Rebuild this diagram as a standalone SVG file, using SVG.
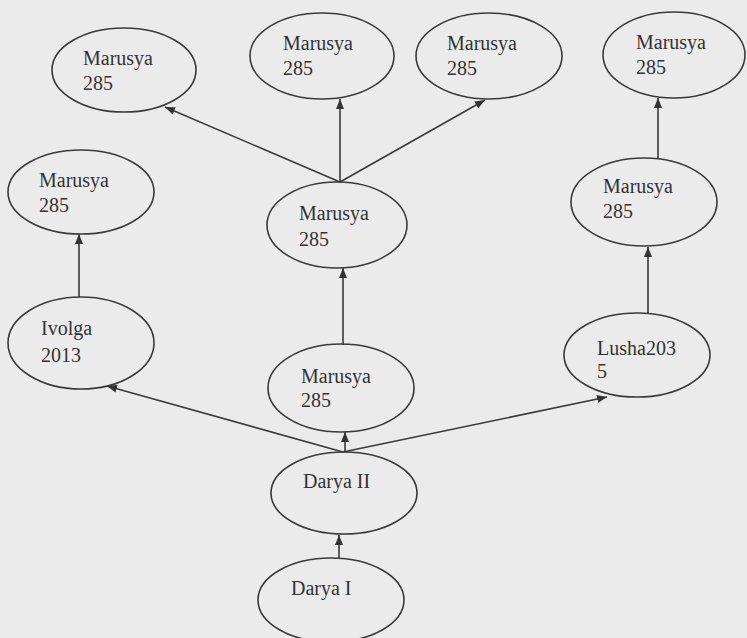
<svg xmlns="http://www.w3.org/2000/svg" width="747" height="638" viewBox="0 0 747 638">
<style>
.n ellipse{fill:none;stroke:#3a3a3a;stroke-width:1.6}
.n text{font-family:"Liberation Serif","Times New Roman",serif;font-size:20px;fill:#333}
#edges line{stroke:#3a3a3a;stroke-width:1.6;marker-end:url(#ah)}
</style>
<defs>
<marker id="ah" viewBox="0 0 10 8" refX="10" refY="4" markerWidth="10" markerHeight="8" markerUnits="userSpaceOnUse" orient="auto">
<path d="M0,0 L10,4 L0,8 Z" fill="#333"/>
</marker>
</defs>
<rect width="747" height="638" fill="#ebebeb"/>
<g id="edges">
<line x1="339" y1="558" x2="339" y2="535"/>
<line x1="345" y1="452" x2="345" y2="432"/>
<line x1="343" y1="452" x2="107" y2="386"/>
<line x1="343" y1="452" x2="607" y2="397"/>
<line x1="343" y1="345" x2="343" y2="268"/>
<line x1="79" y1="297" x2="79" y2="234"/>
<line x1="340" y1="182" x2="165" y2="107"/>
<line x1="340" y1="182" x2="340" y2="99"/>
<line x1="340" y1="182" x2="485" y2="100"/>
<line x1="648" y1="313" x2="648" y2="247"/>
<line x1="658" y1="158" x2="658" y2="98"/>
</g>
<g id="m1" class="n"><ellipse cx="124" cy="70" rx="72" ry="42"/><text x="83" y="65">Marusya</text><text x="83" y="90">285</text></g>
<g id="m2" class="n"><ellipse cx="322" cy="56" rx="72" ry="43"/><text x="283" y="50">Marusya</text><text x="283" y="75">285</text></g>
<g id="m3" class="n"><ellipse cx="489" cy="56" rx="73" ry="43"/><text x="447" y="50">Marusya</text><text x="447" y="75">285</text></g>
<g id="m4" class="n"><ellipse cx="674" cy="55" rx="71" ry="43"/><text x="636" y="49">Marusya</text><text x="636" y="74">285</text></g>
<g id="m5" class="n"><ellipse cx="81" cy="192" rx="73" ry="42"/><text x="39" y="187">Marusya</text><text x="39" y="212">285</text></g>
<g id="m6" class="n"><ellipse cx="337" cy="225" rx="70" ry="43"/><text x="299" y="220">Marusya</text><text x="299" y="246">285</text></g>
<g id="m7" class="n"><ellipse cx="644" cy="202" rx="73" ry="44"/><text x="603" y="193">Marusya</text><text x="603" y="218">285</text></g>
<g id="ivolga" class="n"><ellipse cx="81" cy="343" rx="73" ry="46"/><text x="41" y="335">Ivolga</text><text x="41" y="362">2013</text></g>
<g id="m8" class="n"><ellipse cx="341" cy="388" rx="73" ry="44"/><text x="301" y="383">Marusya</text><text x="301" y="407">285</text></g>
<g id="lusha" class="n"><ellipse cx="637" cy="355" rx="73" ry="42"/><text x="597" y="355">Lusha203</text><text x="597" y="378">5</text></g>
<g id="darya2" class="n"><ellipse cx="344" cy="493" rx="73" ry="41"/><text x="303" y="488">Darya II</text></g>
<g id="darya1" class="n"><ellipse cx="331" cy="600" rx="73" ry="42"/><text x="291" y="595">Darya I</text></g>
</svg>
